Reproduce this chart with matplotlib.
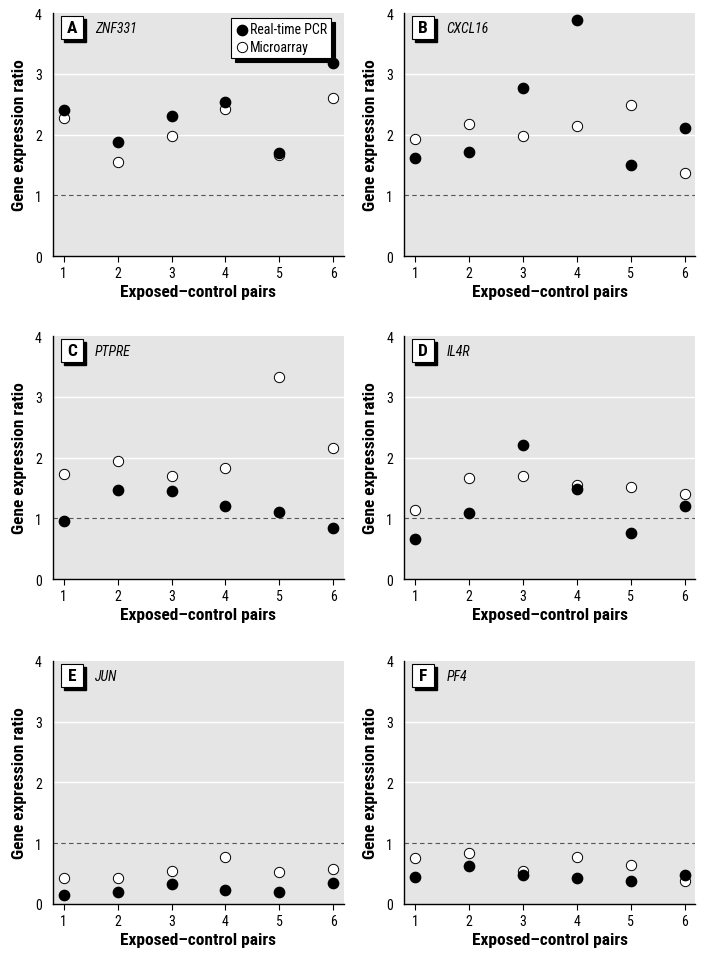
import matplotlib
matplotlib.use("Agg")
import matplotlib.pyplot as plt
from matplotlib.patches import Rectangle

# data, pairs 1-6
pairs = [1, 2, 3, 4, 5, 6]
panel_letters = ["A", "B", "C", "D", "E", "F"]
gene_names = ["ZNF331", "CXCL16", "PTPRE", "IL4R", "JUN", "PF4"]

pcr_znf331 = [2.40, 1.87, 2.31, 2.53, 1.69, 3.18]
array_znf331 = [2.28, 1.55, 1.98, 2.42, 1.66, 2.60]
pcr_cxcl16 = [1.62, 1.72, 2.77, 3.89, 1.50, 2.10]
array_cxcl16 = [1.93, 2.18, 1.98, 2.14, 2.48, 1.37]
pcr_ptpre = [0.95, 1.47, 1.45, 1.21, 1.10, 0.84]
array_ptpre = [1.73, 1.95, 1.69, 1.83, 3.32, 2.15]
pcr_il4r = [0.66, 1.08, 2.20, 1.49, 0.76, 1.21]
array_il4r = [1.14, 1.66, 1.70, 1.55, 1.51, 1.40]
pcr_jun = [0.15, 0.19, 0.33, 0.23, 0.20, 0.35]
array_jun = [0.42, 0.43, 0.54, 0.77, 0.52, 0.57]
pcr_pf4 = [0.45, 0.63, 0.48, 0.42, 0.385, 0.48]
array_pf4 = [0.75, 0.84, 0.54, 0.77, 0.64, 0.37]

pcr_all = [pcr_znf331, pcr_cxcl16, pcr_ptpre, pcr_il4r, pcr_jun, pcr_pf4]
array_all = [array_znf331, array_cxcl16, array_ptpre, array_il4r, array_jun, array_pf4]

plt.rcParams["font.family"] = ["Roboto Condensed", "DejaVu Sans"]

fig = plt.figure(figsize=(7.14, 9.54), dpi=100)

lefts = [0.074, 0.566]
bottoms = [0.7306, 0.392, 0.0514]
width = 0.408
height = 0.2547

for i in range(6):
    row, col = divmod(i, 2)
    ax = fig.add_axes([lefts[col], bottoms[row], width, height])
    ax.set_facecolor("#e5e5e5")
    for s in ["top", "right"]:
        ax.spines[s].set_visible(False)
    for s in ["left", "bottom"]:
        ax.spines[s].set_linewidth(1.0)
        ax.spines[s].set_color("black")

    ax.set_xlim(0.8, 6.2)
    ax.set_ylim(0, 4)
    for g in [2, 3]:
        ax.axhline(g, color="white", lw=1.0, zorder=1)
    ax.axhline(1, color="#555555", lw=0.8, ls=(0, (4, 3)), zorder=2)

    ax.scatter(pairs, pcr_all[i], s=55, color="black", zorder=4,
               label="Real-time PCR")
    ax.scatter(pairs, array_all[i], s=55, facecolor="white",
               edgecolor="black", linewidth=0.7, zorder=3, label="Microarray")

    ax.set_xticks(pairs)
    ax.set_yticks([0, 1, 2, 3, 4])
    ax.tick_params(axis="x", length=4, width=0.8, labelsize=10, pad=3)
    ax.tick_params(axis="y", length=0, labelsize=10, pad=8)
    ax.set_xlabel("Exposed\u2013control pairs", fontsize=12.5, fontweight="bold",
                  labelpad=3)
    ax.set_ylabel("Gene expression ratio", fontsize=12.5, fontweight="bold",
                  labelpad=6)

    # panel letter box with drop shadow
    ax.add_patch(Rectangle((0.037, 0.881), 0.076, 0.095, transform=ax.transAxes,
                           facecolor="black", edgecolor="black", zorder=5,
                           clip_on=False))
    ax.add_patch(Rectangle((0.027, 0.893), 0.076, 0.095, transform=ax.transAxes,
                           facecolor="white", edgecolor="black", lw=0.8,
                           zorder=6, clip_on=False))
    ax.text(0.065, 0.94, panel_letters[i], transform=ax.transAxes,
            fontsize=12.5, fontweight="bold", ha="center", va="center", zorder=7)
    ax.text(0.145, 0.94, gene_names[i], transform=ax.transAxes,
            fontsize=10, style="italic", ha="left", va="center", zorder=7)

    if i == 0:
        leg = ax.legend(loc="upper right", bbox_to_anchor=(0.965, 0.99),
                        fontsize=10, frameon=True, fancybox=False,
                        edgecolor="black", framealpha=1, handletextpad=0.15,
                        handlelength=0.9, borderpad=0.3, labelspacing=0.25,
                        borderaxespad=0.2,
                        shadow={"color": "black", "alpha": 1, "ox": 3, "oy": -3})
        leg.get_frame().set_linewidth(0.8)
        leg.set_zorder(8)

fig.savefig("out.png", dpi=100)
